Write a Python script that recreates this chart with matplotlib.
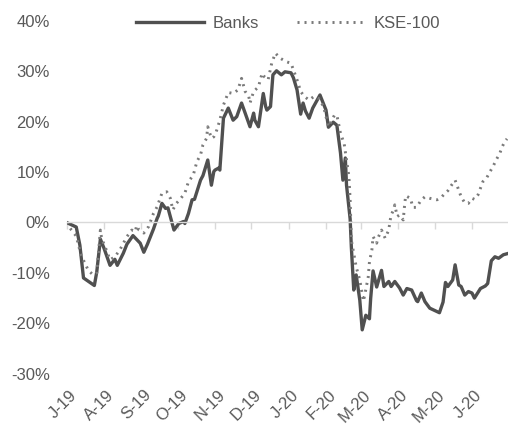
"""
Banks vs KSE-100 cumulative return, Jul-19 to Jun-20
"""

import numpy as np
import pandas as pd
import matplotlib
matplotlib.use('Agg')
import matplotlib.pyplot as plt
import matplotlib.dates as mdates

plt.rcParams['font.family'] = ['Liberation Sans', 'DejaVu Sans']
plt.rcParams['axes.unicode_minus'] = False

START = pd.Timestamp('2019-07-01')

# days since 1-Jul-19 and cumulative return in %
BANKS_DAY = [0, 8, 11, 14, 23, 25, 28, 31, 36, 40, 42, 47, 50, 55, 61, 64, 67, 72, 75, 76,
             79, 82, 84, 89, 93, 97, 98, 101, 104, 106, 111, 113, 117, 120, 122, 123, 126,
             127, 130, 134, 138, 141, 145, 148, 152, 155, 156, 159, 163, 165, 166, 169, 171,
             174, 178, 181, 186, 188, 191, 194, 196, 198, 201, 204, 210, 215, 217, 221, 224,
             227, 229, 231, 232, 235, 236, 238, 240, 243, 245, 248, 251, 252, 254, 257, 261,
             263, 267, 269, 272, 276, 279, 282, 286, 290, 291, 294, 297, 301, 309, 312, 314,
             316, 320, 322, 325, 327, 330, 333, 336, 338, 343, 347, 349, 352, 355, 358, 362,
             365]
BANKS_RET = [0.0, -0.9, -4.5, -11.0, -12.5, -9.8, -3.3, -5.1, -8.5, -7.3, -8.5, -6.1, -4.3,
             -2.6, -4.1, -5.9, -4.3, -1.3, 0.8, 1.3, 3.8, 2.8, 2.9, -1.5, -0.2, 0.2, -0.2,
             1.8, 4.5, 4.6, 8.4, 9.3, 12.4, 7.4, 10.1, 10.4, 10.8, 10.4, 20.7, 22.7, 20.3,
             21.0, 23.7, 21.7, 19.0, 21.7, 20.3, 19.0, 25.6, 23.0, 22.3, 23.0, 29.3, 30.1,
             29.3, 29.9, 29.7, 28.7, 26.3, 21.5, 23.7, 22.1, 20.7, 22.7, 25.3, 22.3, 18.9,
             19.9, 19.3, 13.8, 8.4, 12.8, 7.4, 0.7, -4.9, -13.4, -10.4, -15.4, -21.3, -18.4,
             -19.1, -15.1, -9.6, -12.8, -9.5, -12.7, -11.7, -12.7, -11.7, -13.0, -14.4,
             -13.1, -13.4, -15.5, -15.7, -14.0, -15.7, -17.0, -17.9, -15.8, -11.9, -12.7,
             -11.4, -8.4, -12.4, -12.7, -14.4, -13.7, -14.0, -15.0, -13.1, -12.6, -12.1,
             -7.6, -6.8, -7.1, -6.4, -6.2]

KSE_DAY = [0, 4, 8, 12, 18, 22, 25, 28, 29, 33, 36, 40, 44, 50, 54, 57, 58, 60, 64, 68, 72,
           75, 79, 83, 86, 88, 91, 94, 98, 101, 105, 108, 111, 113, 116, 117, 120, 122, 124,
           127, 130, 134, 138, 142, 145, 148, 151, 152, 155, 159, 162, 164, 167, 170, 173,
           177, 182, 186, 188, 191, 194, 197, 201, 205, 209, 213, 217, 222, 224, 227, 230,
           232, 234, 235, 236, 238, 240, 243, 246, 247, 249, 250, 251, 253, 254, 257, 258,
           261, 264, 267, 268, 269, 271, 272, 274, 276, 279, 280, 281, 285, 287, 290, 294,
           297, 301, 307, 311, 314, 316, 319, 322, 325, 327, 330, 333, 336, 338, 341, 343,
           345, 348, 351, 354, 356, 359, 361, 363, 365]
KSE_RET = [0.0, -1.5, -2.7, -6.5, -9.5, -10.4, -10.0, -1.5, -3.1, -5.5, -7.4, -6.8, -5.5,
           -2.8, -1.5, -1.8, -0.6, -1.5, -2.1, -0.8, 1.8, 3.1, 5.8, 6.1, 4.8, 2.5, 3.8, 4.6,
           5.8, 8.1, 9.4, 12.1, 13.4, 15.4, 16.7, 19.0, 16.7, 17.0, 18.0, 20.3, 23.3, 25.8,
           25.6, 26.3, 28.6, 26.0, 25.0, 23.7, 26.0, 26.9, 29.6, 28.9, 28.3, 31.6, 33.6,
           32.6, 31.9, 31.6, 30.3, 28.3, 26.0, 25.0, 24.3, 25.0, 24.6, 23.0, 19.0, 21.3,
           21.3, 17.7, 15.7, 12.4, 9.1, 4.5, -3.5, -6.1, -8.8, -11.4, -15.6, -14.5, -12.1,
           -10.8, -7.8, -5.5, -2.8, -4.1, -3.1, -1.5, -3.1, -1.5, 0.2, 1.5, 2.5, 3.5, 1.2,
           1.5, 0.5, 3.1, 5.3, 4.8, 3.0, 3.0, 4.5, 5.1, 4.8, 4.5, 5.1, 5.9, 6.3, 7.4, 8.4,
           6.4, 5.1, 3.9, 3.8, 4.8, 4.6, 5.5, 6.8, 8.1, 8.8, 10.1, 11.4, 12.4, 13.7, 15.0,
           16.0, 16.6]

MONTH_LABELS = ['J-19', 'A-19', 'S-19', 'O-19', 'N-19', 'D-19',
                'J-20', 'F-20', 'M-20', 'A-20', 'M-20', 'J-20']
Y_TICKS = [-30, -20, -10, 0, 10, 20, 30, 40]

TEXT = '#595959'
GRID = '#d9d9d9'
FS = 12


def to_dates(days):
    return START + pd.to_timedelta(np.array(days), unit='D')


def main():
    fig = plt.figure(figsize=(5.08, 4.24), dpi=100)
    W, H = 508, 424
    left, right = 66.6, 508.2
    top, bottom = 20.9, 373.7
    ax = fig.add_axes([left / W, 1 - bottom / H, (right - left) / W, (bottom - top) / H])

    ax.plot(to_dates(BANKS_DAY), BANKS_RET, color='#505050', lw=2.4,
            solid_joinstyle='round', label='Banks')
    ax.plot(to_dates(KSE_DAY), KSE_RET, color='#7a7a7a', lw=2.1,
            linestyle=(0, (0.7, 1.7)), dash_capstyle='butt', label='KSE-100')

    ax.set_xlim(START, START + pd.Timedelta(days=366))
    ax.set_ylim(-30, 40)
    ax.set_yticks(Y_TICKS)
    ax.yaxis.set_major_formatter(plt.FuncFormatter(lambda v, p: f'{v:.0f}%'))
    ax.tick_params(axis='y', length=0, pad=12, labelsize=FS, labelcolor=TEXT)

    for s in ['top', 'right', 'left']:
        ax.spines[s].set_visible(False)
    ax.spines['bottom'].set_position(('data', 0))
    ax.spines['bottom'].set_color(GRID)
    ax.spines['bottom'].set_linewidth(1.0)

    month_starts = mdates.date2num(pd.date_range(START, periods=len(MONTH_LABELS), freq='MS'))
    ax.set_xticks(month_starts)
    ax.tick_params(axis='x', direction='out', length=5, width=1.0, color=GRID,
                   labelbottom=False)

    # month labels sit below the plot area, rotated like Excel does it
    for xm, lab in zip(month_starts, MONTH_LABELS):
        ax.annotate(lab, xy=(xm, 0), xycoords=ax.get_xaxis_transform(),
                    xytext=(5.4, -13.5), textcoords='offset points',
                    rotation=45, rotation_mode='anchor', ha='right', va='center',
                    fontsize=FS, color=TEXT, annotation_clip=False)

    fig.legend(loc='center', bbox_to_anchor=(288 / W, 1 - 23 / H), ncol=2,
               frameon=False, fontsize=FS, labelcolor=TEXT, handlelength=4.1,
               handletextpad=0.5, columnspacing=2.3)

    fig.savefig('out.png', dpi=100)


if __name__ == '__main__':
    main()
